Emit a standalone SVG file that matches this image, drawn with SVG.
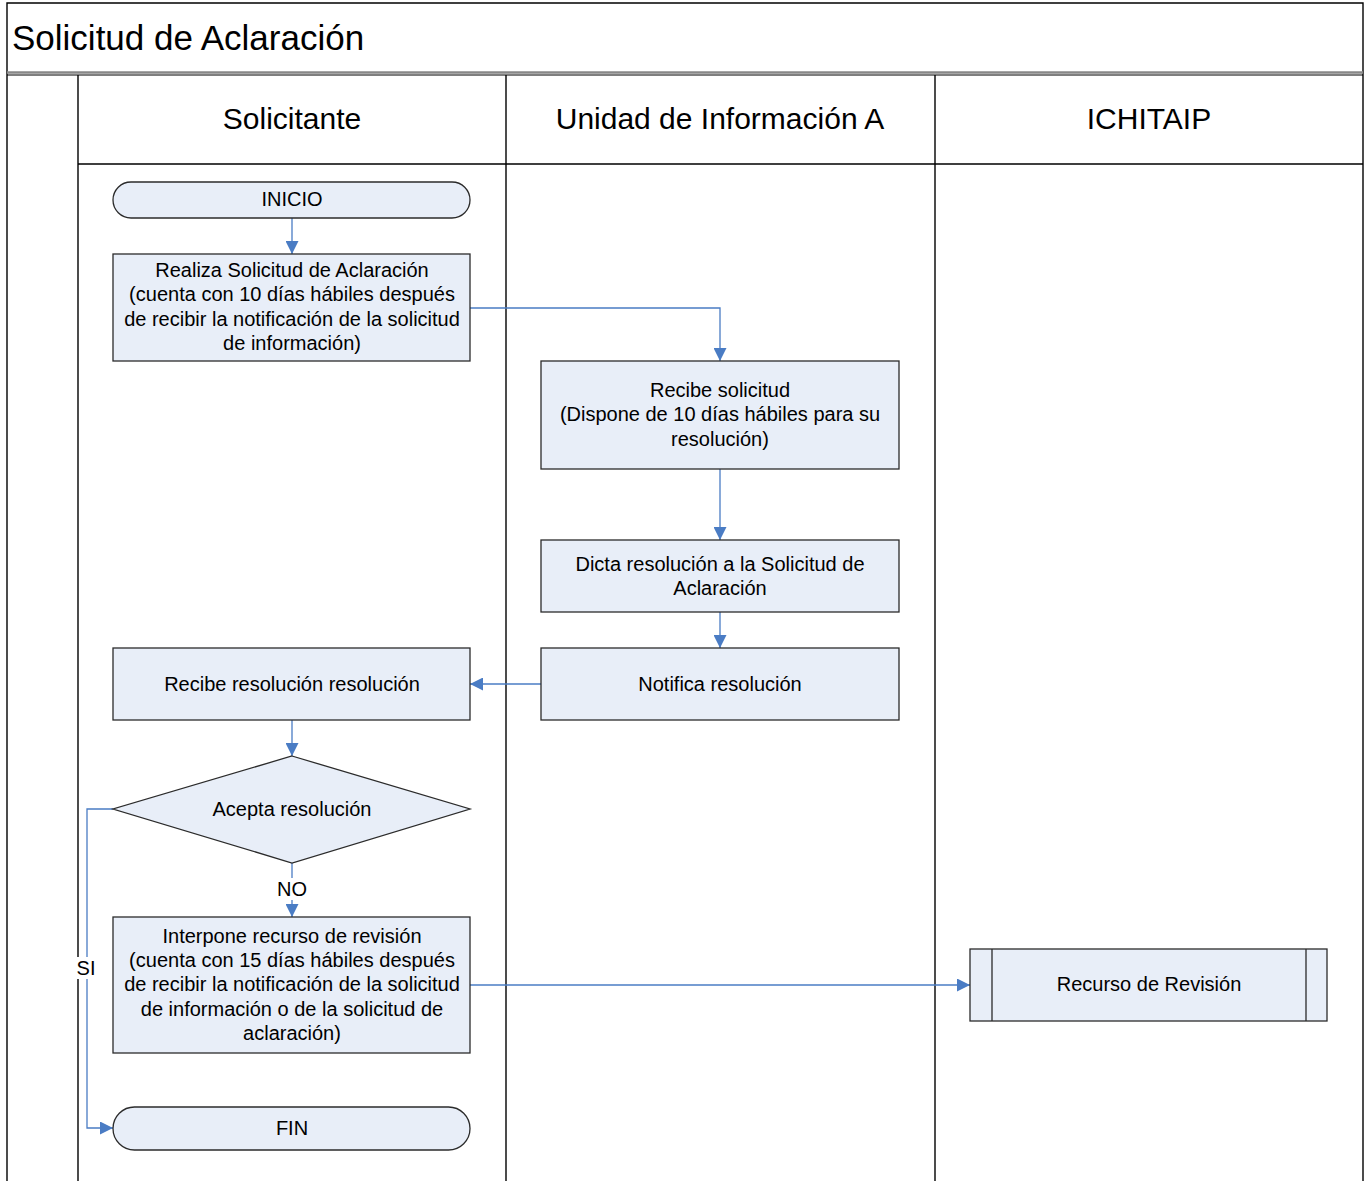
<svg xmlns="http://www.w3.org/2000/svg" width="1369" height="1181" viewBox="0 0 1369 1181">
<style>
text{font-family:"Liberation Sans",Arial,sans-serif;fill:#000;text-anchor:middle}
.t{font-size:20px}
.h{font-size:30px}
.node{fill:#E8EEF8;stroke:#2b2b2b;stroke-width:1.3}
.lane{fill:none;stroke:#000;stroke-width:1.4}
.c{fill:none;stroke:#4A7CC4;stroke-width:1.3}
</style>
<defs>
<marker id="a" viewBox="0 0 10 10" refX="10" refY="5" markerWidth="13" markerHeight="13" markerUnits="userSpaceOnUse" orient="auto">
<path d="M0,0L10,5L0,10z" fill="#4A7CC4"/>
</marker>
</defs>
<rect width="1369" height="1181" fill="#fff"/>
<g id="frame">
<path class="lane" d="M7,1181V3H1363V1181"/>
<line x1="7" y1="72.5" x2="1363" y2="72.5" stroke="#888" stroke-width="2.5"/>
<line x1="7" y1="75" x2="1363" y2="75" stroke="#000" stroke-width="1.2"/>
<text x="12" y="50" style="font-size:35px;text-anchor:start">Solicitud de Aclaración</text>
</g>
<g id="lanes">
<path class="lane" d="M78,75V1181M506,75V1181M935,75V1181M78,164H1363"/>
<text class="h" x="292" y="129">Solicitante</text>
<text class="h" x="720" y="129">Unidad de Información A</text>
<text class="h" x="1149" y="129">ICHITAIP</text>
</g>
<g id="connectors">
<path class="c" d="M292,218V254" marker-end="url(#a)"/>
<path class="c" d="M470,308H720V361" marker-end="url(#a)"/>
<path class="c" d="M720,469V540" marker-end="url(#a)"/>
<path class="c" d="M720,612V648" marker-end="url(#a)"/>
<path class="c" d="M541,684H470" marker-end="url(#a)"/>
<path class="c" d="M292,720V756" marker-end="url(#a)"/>
<path class="c" d="M292,863V917" marker-end="url(#a)"/>
<path class="c" d="M113,809H87V1128H113" marker-end="url(#a)"/>
<path class="c" d="M470,985H970" marker-end="url(#a)"/>
<rect x="276" y="878" width="32" height="22" fill="#fff"/>
<text class="t" x="292" y="896">NO</text>
<rect x="76" y="957" width="22" height="22" fill="#fff"/>
<text class="t" x="86" y="975">SI</text>
</g>
<g id="inicio">
<rect class="node" x="113" y="182" width="357" height="36" rx="18"/>
<text class="t" x="292" y="206">INICIO</text>
</g>
<g id="realiza">
<rect class="node" x="113" y="254" width="357" height="107"/>
<text class="t" x="292" y="277">Realiza Solicitud de Aclaración</text>
<text class="t" x="292" y="301">(cuenta con 10 días hábiles después</text>
<text class="t" x="292" y="326">de recibir la notificación de la solicitud</text>
<text class="t" x="292" y="350">de información)</text>
</g>
<g id="recibe-solicitud">
<rect class="node" x="541" y="361" width="358" height="108"/>
<text class="t" x="720" y="397">Recibe solicitud</text>
<text class="t" x="720" y="421">(Dispone de 10 días hábiles para su</text>
<text class="t" x="720" y="446">resolución)</text>
</g>
<g id="dicta">
<rect class="node" x="541" y="540" width="358" height="72"/>
<text class="t" x="720" y="571">Dicta resolución a la Solicitud de</text>
<text class="t" x="720" y="595">Aclaración</text>
</g>
<g id="notifica">
<rect class="node" x="541" y="648" width="358" height="72"/>
<text class="t" x="720" y="691">Notifica resolución</text>
</g>
<g id="recibe-resolucion">
<rect class="node" x="113" y="648" width="357" height="72"/>
<text class="t" x="292" y="691">Recibe resolución resolución</text>
</g>
<g id="acepta">
<path class="node" d="M292,756L470,809L292,863L113,809Z"/>
<text class="t" x="292" y="816">Acepta resolución</text>
</g>
<g id="interpone">
<rect class="node" x="113" y="917" width="357" height="136"/>
<text class="t" x="292" y="943">Interpone recurso de revisión</text>
<text class="t" x="292" y="967">(cuenta con 15 días hábiles después</text>
<text class="t" x="292" y="991">de recibir la notificación de la solicitud</text>
<text class="t" x="292" y="1016">de información o de la solicitud de</text>
<text class="t" x="292" y="1040">aclaración)</text>
</g>
<g id="fin">
<rect class="node" x="113" y="1107" width="357" height="43" rx="21.5"/>
<text class="t" x="292" y="1135">FIN</text>
</g>
<g id="recurso">
<rect class="node" x="970" y="949" width="357" height="72"/>
<path class="node" d="M992,949V1021M1306,949V1021"/>
<text class="t" x="1149" y="991">Recurso de Revisión</text>
</g>
</svg>
